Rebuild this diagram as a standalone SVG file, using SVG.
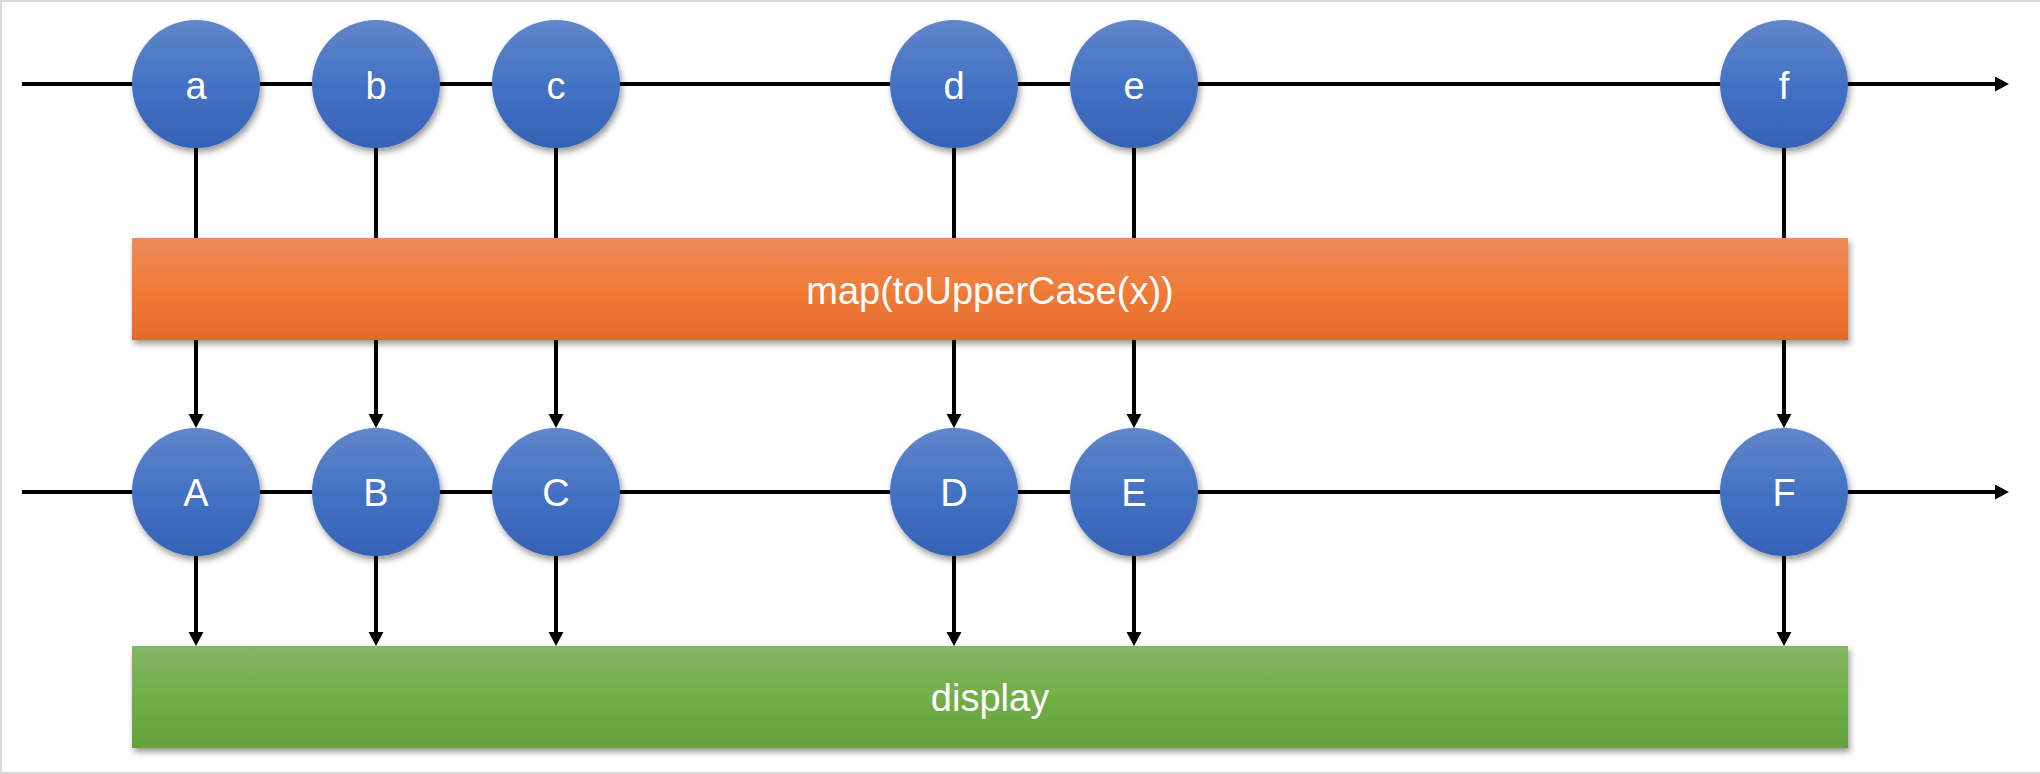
<svg xmlns="http://www.w3.org/2000/svg" width="2040" height="774" viewBox="0 0 2040 774">
  <defs>
    <style>
      .ln { stroke: #000; stroke-width: 4; fill: none; }
      .arr { marker-end: url(#ah); }
      .circ { fill: url(#gBlue); filter: url(#sh); }
      .lbl { font-family: "Liberation Sans", Arial, sans-serif; font-size: 38px; fill: #fff; text-anchor: middle; }
    </style>
    <linearGradient id="gBlue" x1="0" y1="0" x2="0" y2="1">
      <stop offset="0" stop-color="#6186ca"/>
      <stop offset="0.5" stop-color="#4472c4"/>
      <stop offset="1" stop-color="#3562b6"/>
    </linearGradient>
    <linearGradient id="gOrange" x1="0" y1="0" x2="0" y2="1">
      <stop offset="0" stop-color="#ee8b5c"/>
      <stop offset="0.5" stop-color="#f07b37"/>
      <stop offset="1" stop-color="#e46a2b"/>
    </linearGradient>
    <linearGradient id="gGreen" x1="0" y1="0" x2="0" y2="1">
      <stop offset="0" stop-color="#83b666"/>
      <stop offset="0.5" stop-color="#71ae48"/>
      <stop offset="1" stop-color="#65a03c"/>
    </linearGradient>
    <filter id="sh" x="-20%" y="-20%" width="150%" height="160%">
      <feDropShadow dx="2" dy="4" stdDeviation="3" flood-color="#000" flood-opacity="0.4"/>
    </filter>
    <marker id="ah" markerUnits="userSpaceOnUse" markerWidth="15" markerHeight="16" refX="0" refY="7.5" orient="auto">
      <path d="M0,0 L14,7.5 L0,15 Z" fill="#000"/>
    </marker>
  </defs>

  <rect x="0" y="0" width="2040" height="774" fill="#fff"/>
  <g id="frame" stroke="#d9d9d9" stroke-width="2" fill="none">
    <line x1="0" y1="1" x2="2040" y2="1"/>
    <line x1="1" y1="0" x2="1" y2="774"/>
    <line x1="0" y1="773" x2="2040" y2="773"/>
  </g>

  <g id="connectors">
    <line class="ln arr" x1="22" y1="84" x2="1995" y2="84"/>
    <line class="ln arr" x1="22" y1="492" x2="1995" y2="492"/>
    <g id="top-to-map">
      <line class="ln" x1="196" y1="148" x2="196" y2="240"/>
      <line class="ln" x1="376" y1="148" x2="376" y2="240"/>
      <line class="ln" x1="556" y1="148" x2="556" y2="240"/>
      <line class="ln" x1="954" y1="148" x2="954" y2="240"/>
      <line class="ln" x1="1134" y1="148" x2="1134" y2="240"/>
      <line class="ln" x1="1784" y1="148" x2="1784" y2="240"/>
    </g>
    <g id="map-to-bottom">
      <line class="ln arr" x1="196" y1="338" x2="196" y2="414"/>
      <line class="ln arr" x1="376" y1="338" x2="376" y2="414"/>
      <line class="ln arr" x1="556" y1="338" x2="556" y2="414"/>
      <line class="ln arr" x1="954" y1="338" x2="954" y2="414"/>
      <line class="ln arr" x1="1134" y1="338" x2="1134" y2="414"/>
      <line class="ln arr" x1="1784" y1="338" x2="1784" y2="414"/>
    </g>
    <g id="bottom-to-display">
      <line class="ln arr" x1="196" y1="556" x2="196" y2="632"/>
      <line class="ln arr" x1="376" y1="556" x2="376" y2="632"/>
      <line class="ln arr" x1="556" y1="556" x2="556" y2="632"/>
      <line class="ln arr" x1="954" y1="556" x2="954" y2="632"/>
      <line class="ln arr" x1="1134" y1="556" x2="1134" y2="632"/>
      <line class="ln arr" x1="1784" y1="556" x2="1784" y2="632"/>
    </g>
  </g>

  <g id="map">
    <rect x="132" y="238" width="1716" height="102" fill="url(#gOrange)" filter="url(#sh)"/>
    <text class="lbl" x="990" y="304">map(toUpperCase(x))</text>
  </g>
  <g id="display">
    <rect x="132" y="646" width="1716" height="102" fill="url(#gGreen)" filter="url(#sh)"/>
    <text class="lbl" x="990" y="711">display</text>
  </g>

  <g id="node-a"><circle class="circ" cx="196" cy="84" r="64"/><text class="lbl" x="196" y="99">a</text></g>
  <g id="node-b"><circle class="circ" cx="376" cy="84" r="64"/><text class="lbl" x="376" y="99">b</text></g>
  <g id="node-c"><circle class="circ" cx="556" cy="84" r="64"/><text class="lbl" x="556" y="99">c</text></g>
  <g id="node-d"><circle class="circ" cx="954" cy="84" r="64"/><text class="lbl" x="954" y="99">d</text></g>
  <g id="node-e"><circle class="circ" cx="1134" cy="84" r="64"/><text class="lbl" x="1134" y="99">e</text></g>
  <g id="node-f"><circle class="circ" cx="1784" cy="84" r="64"/><text class="lbl" x="1784" y="99">f</text></g>

  <g id="node-A"><circle class="circ" cx="196" cy="492" r="64"/><text class="lbl" x="196" y="506">A</text></g>
  <g id="node-B"><circle class="circ" cx="376" cy="492" r="64"/><text class="lbl" x="376" y="506">B</text></g>
  <g id="node-C"><circle class="circ" cx="556" cy="492" r="64"/><text class="lbl" x="556" y="506">C</text></g>
  <g id="node-D"><circle class="circ" cx="954" cy="492" r="64"/><text class="lbl" x="954" y="506">D</text></g>
  <g id="node-E"><circle class="circ" cx="1134" cy="492" r="64"/><text class="lbl" x="1134" y="506">E</text></g>
  <g id="node-F"><circle class="circ" cx="1784" cy="492" r="64"/><text class="lbl" x="1784" y="506">F</text></g>
</svg>
